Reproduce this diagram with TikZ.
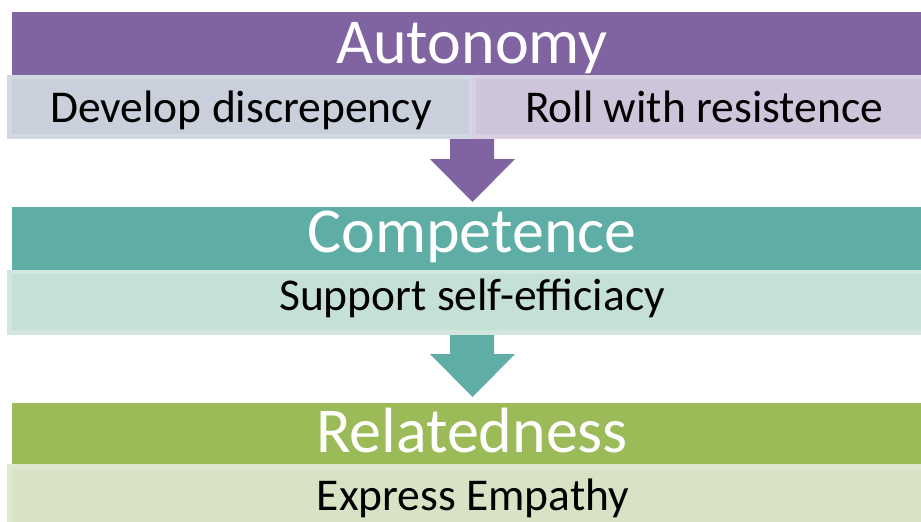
\documentclass[tikz,border=0pt]{standalone}
\usepackage{fontspec}
\setmainfont{Carlito}
\definecolor{purp}{HTML}{8064A2}
\definecolor{teal2}{HTML}{5EAEA6}
\definecolor{grn}{HTML}{9BBB59}
\definecolor{subL}{HTML}{C9D0DC}
\definecolor{subLb}{HTML}{D3D9E3}
\definecolor{subR}{HTML}{CFC5DB}
\definecolor{subRb}{HTML}{D8D0E2}
\definecolor{subT}{HTML}{C5E0D5}
\definecolor{subTb}{HTML}{D1E6DD}
\definecolor{subG}{HTML}{D7E3C4}
\definecolor{subGb}{HTML}{DEE8CF}
\tikzset{
  bigtxt/.style={anchor=base, text=white, font=\fontsize{64}{70}\selectfont, inner sep=0pt},
  subtxt/.style={anchor=base, text=black, font=\fontsize{45.5}{50}\selectfont, inner sep=0pt},
}
\begin{document}
\begin{tikzpicture}[x=1pt,y=-1pt]
\useasboundingbox (0,0) rectangle (921,522);
\begin{scope}
\clip (0,0) rectangle (921,522);
% ---- Autonomy ----
\fill[purp] (12,12) rectangle (937,76);
\fill[subLb] (7,75) rectangle (472,139);
\fill[subL] (12,79) rectangle (469,134);
\fill[subRb] (472,75) rectangle (940,139);
\fill[subR] (476,79) rectangle (940,134);
\node[bigtxt] (aut) at (472,63) {Autonomy};
\node[subtxt] (dd) at (241,122) {Develop discrepency};
\node[subtxt] (rr) at (704,122) {Roll with resistence};
% arrow 1
\fill[purp] (450,139) -- (494,139) -- (494,159) -- (515,159) -- (472.5,202) -- (430,159) -- (450,159) -- cycle;
% ---- Competence ----
\fill[teal2] (12,207) rectangle (937,271);
\fill[subTb] (7,270) rectangle (940,335);
\fill[subT] (12,274) rectangle (940,330);
\node[bigtxt] (com) at (472,252) {Competence};
\node[subtxt] (sse) at (472,310) {Support self-efficiacy};
% arrow 2
\fill[teal2] (450,335) -- (494,335) -- (494,354) -- (515,354) -- (472.5,397) -- (430,354) -- (450,354) -- cycle;
% ---- Relatedness ----
\fill[grn] (12,403) rectangle (937,464);
\fill[subGb] (7,464) rectangle (940,530);
\fill[subG] (12,470) rectangle (940,530);
\node[bigtxt] (rel) at (472,452) {Relatedness};
\node[subtxt] (ee) at (473,510) {Express Empathy};
\end{scope}
\end{tikzpicture}
\end{document}
